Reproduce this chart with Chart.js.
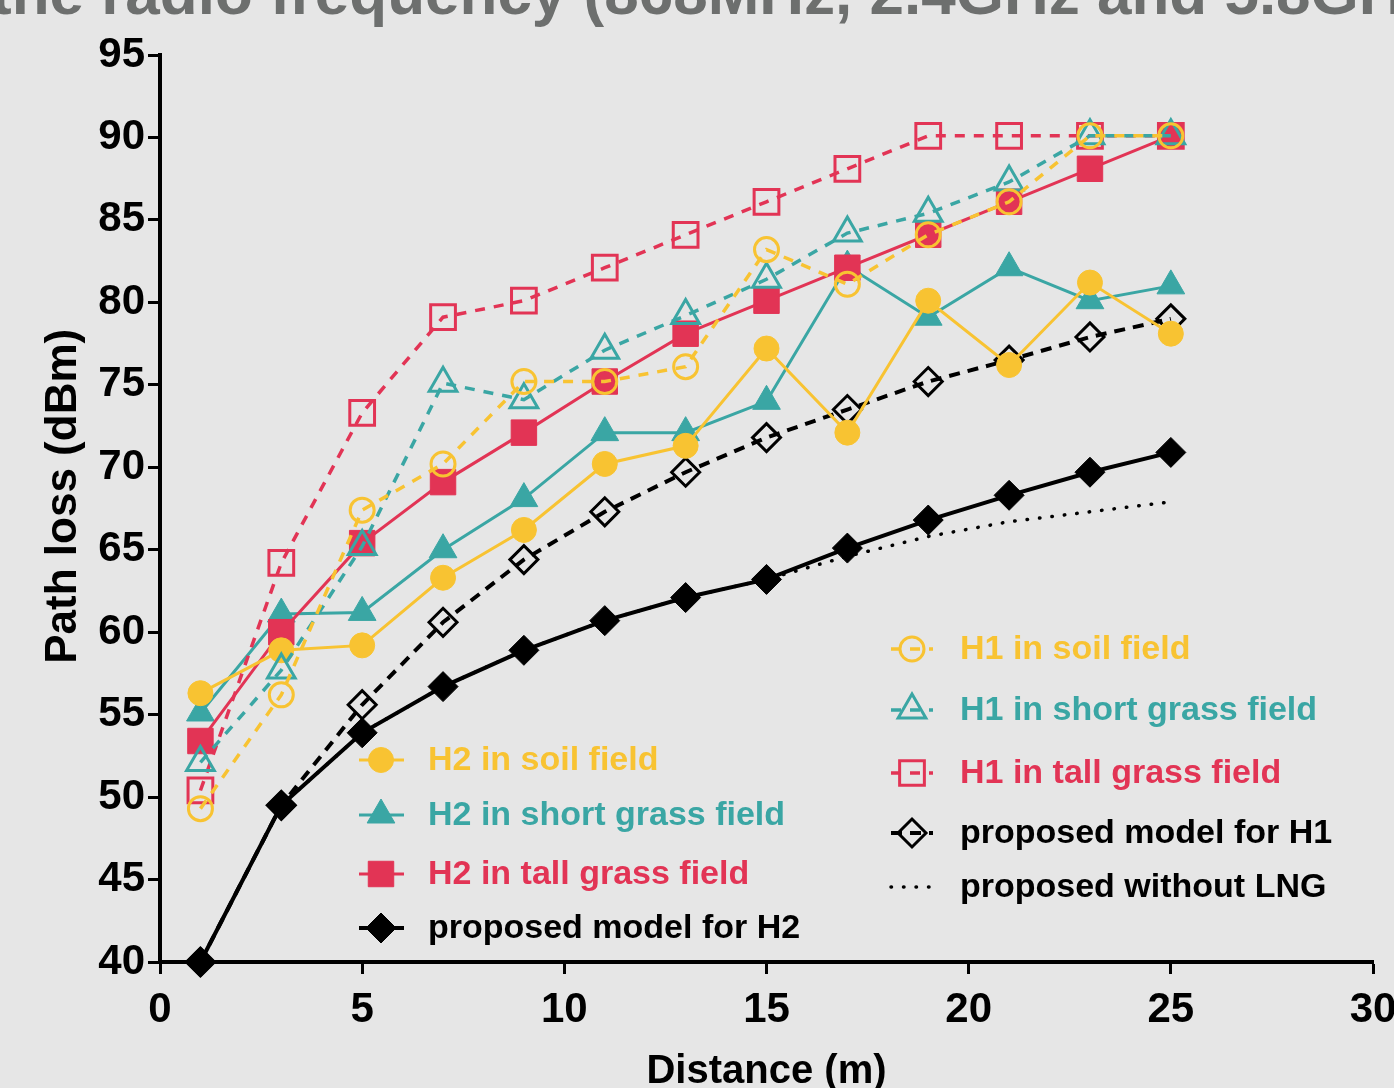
<!DOCTYPE html>
<html>
<head>
<meta charset="utf-8">
<script src="https://cdn.jsdelivr.net/npm/chart.js@4.4.0/dist/chart.umd.min.js"></script>
<style>
  html, body { margin: 0; padding: 0; background: #e6e6e6; overflow: hidden; }
  #wrap { position: relative; width: 1394px; height: 1088px; }
  #title { position: absolute; left: -9px; top: -38px; font: bold 62px "Liberation Sans", Arial, sans-serif;
           line-height: 62px; color: #6d6f6e; white-space: nowrap; }
  canvas { position: absolute; left: 0; top: 0; }
</style>
</head>
<body>
<div id="wrap">
  <div id="title">the radio frequency (868MHz, 2.4GHz and 5.8GHz)</div>
  <canvas id="chart" width="1394" height="1088"></canvas>
</div>
<script>
const distance = [1, 3, 5, 7, 9, 11, 13, 15, 17, 19, 21, 23, 25];
const xTicks = [0, 5, 10, 15, 20, 25, 30];
const yTicks = [40, 45, 50, 55, 60, 65, 70, 75, 80, 85, 90, 95];

const h2Soil  = [56.3, 58.9, 59.2, 63.3, 66.2, 70.2, 71.3, 77.2, 72.1, 80.1, 76.2, 81.2, 78.1];
const h2Short = [55.1, 61.1, 61.2, 65.0, 68.1, 72.1, 72.1, 74.0, 82.2, 79.1, 82.1, 80.1, 81.0];
const h2Tall  = [53.4, 60.0, 65.4, 69.1, 72.1, 75.2, 78.1, 80.1, 82.1, 84.1, 86.1, 88.1, 90.1];
const h1Soil  = [49.3, 56.2, 67.4, 70.2, 75.2, 75.2, 76.1, 83.2, 81.1, 84.1, 86.1, 90.1, 90.1];
const h1Short = [52.1, 57.7, 65.2, 75.1, 74.1, 77.1, 79.2, 81.4, 84.2, 85.4, 87.3, 90.1, 90.1];
const h1Tall  = [50.4, 64.2, 73.3, 79.1, 80.1, 82.1, 84.1, 86.1, 88.1, 90.1, 90.1, 90.1, 90.1];
const modelH2 = [40.0, 49.5, 53.9, 56.7, 58.9, 60.7, 62.1, 63.2, 65.1, 66.8, 68.3, 69.7, 70.9];
const modelH1 = [40.0, 49.5, 55.6, 60.6, 64.4, 67.3, 69.7, 71.8, 73.5, 75.2, 76.5, 77.9, 79.0];
const noLng   = [40.0, 49.5, 53.9, 56.7, 58.9, 60.7, 62.1, 63.2, 64.6, 65.8, 66.7, 67.3, 67.9];

const YELLOW = '#f8c332';
const TEAL = '#3aa6a4';
const RED = '#e23455';
const BLACK = '#000000';
const DASH = [10, 9];

function pts(values) {
  return distance.map((d, i) => ({ x: d, y: values[i] }));
}

function series(label, values, color, shape, radius, filled, dashed, order) {
  return {
    label: label,
    data: pts(values),
    order: order,
    borderColor: color,
    borderWidth: filled ? 3 : 3.5,
    borderDash: dashed ? DASH : [],
    pointStyle: shape,
    pointRadius: radius,
    pointBorderWidth: filled ? 1 : 3,
    pointBorderColor: color,
    pointBackgroundColor: filled ? color : 'rgba(0,0,0,0)',
    clip: false,
    tension: 0
  };
}

const datasets = [
  series('H1 in soil field', h1Soil, YELLOW, 'circle', 12, false, true, 1),
  series('H1 in short grass field', h1Short, TEAL, 'triangle', 16, false, true, 2),
  series('H1 in tall grass field', h1Tall, RED, 'rect', 17.5, false, true, 3),
  series('H2 in soil field', h2Soil, YELLOW, 'circle', 12.5, true, false, 4),
  series('H2 in tall grass field', h2Tall, RED, 'rect', 18, true, false, 5),
  series('H2 in short grass field', h2Short, TEAL, 'triangle', 16, true, false, 6),
  series('proposed model for H2', modelH2, BLACK, 'rectRot', 15, true, false, 7),
  series('proposed without LNG', noLng, BLACK, 'circle', 0, true, false, 8),
  series('proposed model for H1', modelH1, BLACK, 'rectRot', 14, false, true, 9)
];
datasets[6].borderWidth = 4;
datasets[8].borderWidth = 4;
datasets[8].borderDash = [11, 8];
datasets[7].borderWidth = 3.5;
datasets[7].borderDash = [0.5, 12];
datasets[7].borderCapStyle = 'round';

// legend layout: [dataset label, y]
const leftLegend = [
  ['H2 in soil field', 760],
  ['H2 in short grass field', 815],
  ['H2 in tall grass field', 874],
  ['proposed model for H2', 928]
];
const rightLegend = [
  ['H1 in soil field', 649],
  ['H1 in short grass field', 710],
  ['H1 in tall grass field', 773],
  ['proposed model for H1', 833],
  ['proposed without LNG', 887]
];

const legendPlugin = {
  id: 'customLegend',
  afterDatasetsDraw(chart) {
    const ctx = chart.ctx;
    const draw = (items, mx, x0, x1, tx) => {
      items.forEach(([label, y]) => {
        const ds = chart.data.datasets.find(d => d.label === label);
        ctx.save();
        ctx.strokeStyle = ds.borderColor;
        ctx.lineWidth = ds.borderWidth;
        ctx.setLineDash(ds.borderDash || []);
        ctx.lineCap = ds.borderCapStyle || 'butt';
        ctx.beginPath();
        ctx.moveTo(x0, y);
        ctx.lineTo(x1, y);
        ctx.stroke();
        ctx.setLineDash([]);
        if (ds.pointRadius > 0) {
          ctx.fillStyle = ds.pointBackgroundColor;
          ctx.strokeStyle = ds.pointBorderColor;
          ctx.lineWidth = ds.pointBorderWidth;
          Chart.helpers.drawPoint(ctx, {
            pointStyle: ds.pointStyle, radius: ds.pointRadius, rotation: 0, borderWidth: ds.pointBorderWidth
          }, mx, y);
        }
        ctx.fillStyle = ds.borderColor;
        ctx.font = 'bold 34px "Liberation Sans", Arial, sans-serif';
        ctx.textBaseline = 'middle';
        ctx.textAlign = 'left';
        ctx.fillText(label, tx, y + 1);
        ctx.restore();
      });
    };
    draw(leftLegend, 381, 359, 404, 428);
    draw(rightLegend, 912, 891, 933, 960);
  }
};

new Chart(document.getElementById('chart'), {
  type: 'line',
  data: { datasets: datasets },
  options: {
    responsive: false,
    animation: false,
    devicePixelRatio: 1,
    layout: { padding: { top: 55, right: 21, left: 0, bottom: 0 } },
    plugins: { legend: { display: false }, tooltip: { enabled: false } },
    scales: {
      x: {
        type: 'linear',
        min: xTicks[0],
        max: xTicks[xTicks.length - 1],
        afterBuildTicks: s => { s.ticks = xTicks.map(v => ({ value: v })); },
        afterFit: s => { s.height = 126; s.paddingRight = 0; s.paddingLeft = 0; },
        ticks: { color: '#000', padding: 11, font: { family: '"Liberation Sans", Arial', size: 42, weight: 'bold' } },
        grid: { drawOnChartArea: false, drawTicks: true, tickLength: 12, tickWidth: 3, color: '#000' },
        border: { display: true, width: 4, color: '#000' },
        title: {
          display: true, text: 'Distance (m)', color: '#000',
          font: { family: '"Liberation Sans", Arial', size: 40, weight: 'bold', lineHeight: 1 },
          padding: { top: 0, bottom: -4 }
        }
      },
      y: {
        min: yTicks[0],
        max: yTicks[yTicks.length - 1],
        afterBuildTicks: s => { s.ticks = yTicks.map(v => ({ value: v })); },
        afterFit: s => { s.width = 160; },
        ticks: { color: '#000', padding: 3, font: { family: '"Liberation Sans", Arial', size: 42, weight: 'bold' } },
        grid: { drawOnChartArea: false, drawTicks: true, tickLength: 12, tickWidth: 3, color: '#000' },
        border: { display: true, width: 4, color: '#000' },
        title: {
          display: true, text: '  Path loss (dBm)', color: '#000',
          font: { family: '"Liberation Sans", Arial', size: 44, weight: 'bold', lineHeight: 1 },
          padding: { top: 42, bottom: 0 }
        }
      }
    }
  },
  plugins: [legendPlugin]
});
</script>
</body>
</html>
